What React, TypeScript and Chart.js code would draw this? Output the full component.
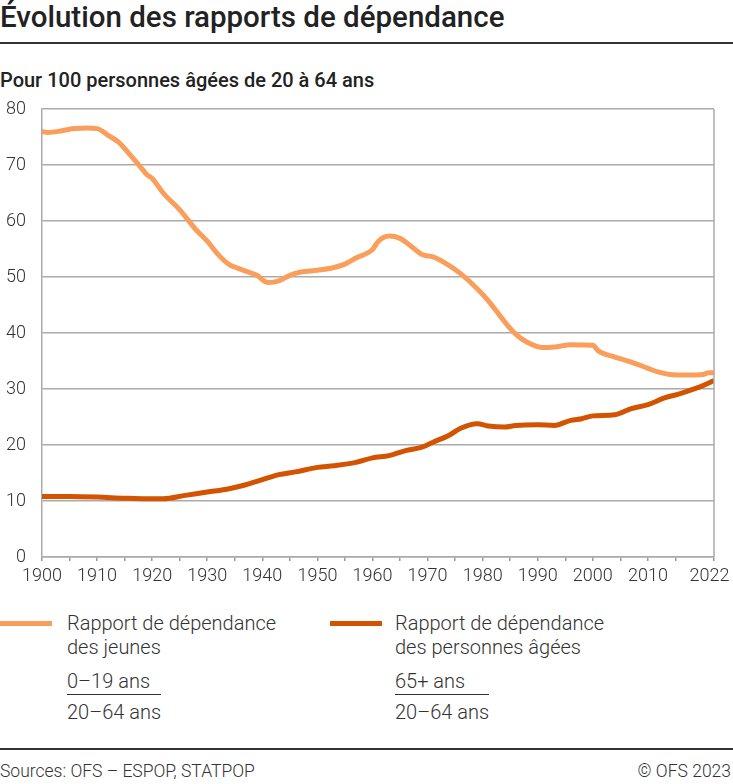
import { useEffect, useRef } from "react";
import { Chart, ChartConfiguration, registerables } from "chart.js";

Chart.register(...registerables);

// Young dependency ratio (0-19 / 20-64)
const youngYears = [
  1900, 1901, 1903, 1905, 1906, 1908, 1910, 1912, 1914, 1916, 1918, 1919,
  1920, 1922, 1925, 1928, 1930, 1932, 1934, 1936, 1939, 1941, 1943, 1945,
  1947, 1950, 1953, 1955, 1957, 1960, 1961, 1963, 1965, 1967, 1969, 1971,
  1973, 1976, 1979, 1981, 1984, 1986, 1988, 1991, 1993, 1996, 2000, 2001,
  2004, 2007, 2010, 2012, 2014, 2017, 2020, 2021, 2022,
];
const youngValues = [
  76.0, 75.8, 76.0, 76.4, 76.5, 76.6, 76.5, 75.3, 74.0, 71.8, 69.5, 68.3,
  67.6, 65.0, 62.0, 58.4, 56.4, 54.0, 52.2, 51.4, 50.3, 49.0, 49.3, 50.3,
  50.9, 51.2, 51.7, 52.3, 53.4, 54.9, 56.3, 57.3, 56.9, 55.5, 54.0, 53.6,
  52.6, 50.6, 47.9, 45.8, 42.0, 39.8, 38.4, 37.4, 37.5, 37.9, 37.8, 36.8,
  35.7, 34.8, 33.7, 33.0, 32.6, 32.5, 32.6, 32.9, 32.9,
];

// Old-age dependency ratio (65+ / 20-64)
const oldYears = [
  1900, 1905, 1910, 1915, 1919, 1922, 1926, 1930, 1934, 1937, 1940, 1943,
  1946, 1950, 1953, 1957, 1960, 1963, 1966, 1969, 1971, 1974, 1976, 1979,
  1981, 1984, 1986, 1990, 1993, 1996, 1998, 2000, 2004, 2007, 2010, 2013,
  2016, 2018, 2020, 2022,
];
const oldValues = [
  10.8, 10.8, 10.7, 10.5, 10.4, 10.4, 11.0, 11.6, 12.2, 12.9, 13.8, 14.7,
  15.2, 16.0, 16.3, 16.9, 17.7, 18.1, 19.0, 19.6, 20.5, 21.8, 23.0, 23.8,
  23.4, 23.2, 23.5, 23.6, 23.5, 24.4, 24.7, 25.2, 25.4, 26.5, 27.2, 28.4,
  29.2, 29.9, 30.6, 31.5,
];

const xTicks = [
  1900, 1905, 1910, 1915, 1920, 1925, 1930, 1935, 1940, 1945, 1950, 1955,
  1960, 1965, 1970, 1975, 1980, 1985, 1990, 1995, 2000, 2005, 2010, 2015, 2022,
];
const xLabels = [
  1900, 1910, 1920, 1930, 1940, 1950, 1960, 1970, 1980, 1990, 2000, 2010, 2022,
];

const youngColor = "#fa9f5b";
const oldColor = "#d35400";
const gridColor = "#aaaaaa";
const textColor = "#333333";
const font = "Roboto, 'Noto Sans', sans-serif";

const rightBorder = {
  id: "rightBorder",
  afterDraw(chart: Chart) {
    const { ctx, chartArea } = chart;
    ctx.save();
    ctx.strokeStyle = gridColor;
    ctx.lineWidth = 1.5;
    ctx.beginPath();
    ctx.moveTo(chartArea.right, chartArea.top);
    ctx.lineTo(chartArea.right, chartArea.bottom);
    ctx.stroke();
    ctx.restore();
  },
};

function DependencyChart() {
  const canvasRef = useRef<HTMLCanvasElement | null>(null);

  useEffect(() => {
    if (!canvasRef.current) return;
    const config: ChartConfiguration = {
      type: "line",
      data: {
        datasets: [
          {
            label: "Rapport de dépendance des personnes âgées",
            data: oldYears.map((y, i) => ({ x: y, y: oldValues[i] })),
            borderColor: oldColor,
            borderWidth: 5,
            pointRadius: 0,
            tension: 0.3,
            cubicInterpolationMode: "monotone",
            borderJoinStyle: "round",
          },
          {
            label: "Rapport de dépendance des jeunes",
            data: youngYears.map((y, i) => ({ x: y, y: youngValues[i] })),
            borderColor: youngColor,
            borderWidth: 5,
            pointRadius: 0,
            tension: 0.3,
            cubicInterpolationMode: "monotone",
            borderJoinStyle: "round",
          },
        ],
      },
      options: {
        animation: false,
        responsive: true,
        maintainAspectRatio: false,
        layout: { padding: { top: 14, right: 19, left: 0, bottom: 0 } },
        plugins: {
          legend: { display: false },
          tooltip: { enabled: false },
        },
        scales: {
          x: {
            type: "linear",
            min: 1900,
            max: 2022,
            afterBuildTicks: (scale: any) => {
              scale.ticks = xTicks.map((v) => ({ value: v }));
            },
            afterFit: (scale: any) => {
              scale.height = 38;
              scale.paddingLeft = 0;
              scale.paddingRight = 0;
            },
            grid: {
              drawOnChartArea: false,
              drawTicks: true,
              tickLength: 4,
              color: "#999999",
              lineWidth: 1.5,
            },
            border: { color: gridColor, width: 1.5 },
            ticks: {
              autoSkip: false,
              maxRotation: 0,
              padding: 5,
              color: textColor,
              font: { family: font, size: 18, weight: 300 },
              callback: (v: any) => {
                if (v === 2022) return "2022\u2002";
                return xLabels.includes(v) ? String(v) : "";
              },
            },
          },
          y: {
            min: 0,
            max: 80,
            afterFit: (scale: any) => {
              scale.width = 42;
              scale.paddingTop = 0;
              scale.paddingBottom = 0;
            },
            grid: { color: gridColor, lineWidth: 1.5, drawTicks: false },
            border: { color: gridColor, width: 1.5 },
            ticks: {
              stepSize: 10,
              padding: 16,
              color: textColor,
              font: { family: font, size: 18, weight: 300 },
            },
          },
        },
      },
      plugins: [rightBorder],
    };
    const chart = new Chart(canvasRef.current, config);
    return () => chart.destroy();
  }, []);

  return (
    <div
      style={{
        position: "absolute",
        left: 0,
        top: 95,
        width: 733,
        height: 500,
      }}
    >
      <canvas ref={canvasRef} />
    </div>
  );
}

function LegendItem(props: {
  left: number;
  color: string;
  lines: string[];
  numerator: string;
}) {
  const { left, color, lines, numerator } = props;
  return (
    <>
      <div
        style={{
          position: "absolute",
          left: left,
          top: 621,
          width: 52,
          height: 5,
          background: color,
        }}
      />
      <div
        style={{
          position: "absolute",
          left: left + 67 - (left === 0 ? 0 : 2),
          top: 611,
          lineHeight: "24px",
          fontSize: 20,
          fontWeight: 300,
          whiteSpace: "nowrap",
        }}
      >
        {lines.map((l) => (
          <div key={l}>{l}</div>
        ))}
        <div style={{ display: "inline-block", marginTop: 10 }}>
          <div
            style={{
              borderBottom: "1.5px solid " + textColor,
              paddingBottom: 1,
            }}
          >
            {numerator}
          </div>
          <div style={{ paddingTop: 5 }}>20–64 ans</div>
        </div>
      </div>
    </>
  );
}

export default function App() {
  return (
    <div
      style={{
        position: "absolute",
        left: 0,
        top: 0,
        width: 733,
        height: 784,
        fontFamily: font,
        color: textColor,
        background: "#fff",
        overflow: "hidden",
      }}
    >
      <div
        style={{
          position: "absolute",
          left: 0,
          top: 0,
          fontSize: 29.5,
          fontWeight: 500,
          color: "#222",
          whiteSpace: "nowrap",
        }}
      >
        Évolution des rapports de dépendance
      </div>
      <div
        style={{
          position: "absolute",
          left: 0,
          top: 42,
          width: 733,
          height: 1.5,
          background: textColor,
        }}
      />
      <div
        style={{
          position: "absolute",
          left: 0,
          top: 68,
          fontSize: 20,
          fontWeight: 500,
          color: "#222",
          whiteSpace: "nowrap",
        }}
      >
        Pour 100 personnes âgées de 20 à 64 ans
      </div>
      <DependencyChart />
      <LegendItem
        left={0}
        color={youngColor}
        lines={["Rapport de dépendance", "des jeunes"]}
        numerator="0–19 ans"
      />
      <LegendItem
        left={330}
        color={oldColor}
        lines={["Rapport de dépendance", "des personnes âgées"]}
        numerator="65+ ans"
      />
      <div
        style={{
          position: "absolute",
          left: 0,
          top: 748,
          width: 733,
          height: 1.5,
          background: textColor,
        }}
      />
      <div
        style={{
          position: "absolute",
          left: 0,
          top: 761,
          fontSize: 17.5,
          fontWeight: 300,
          whiteSpace: "nowrap",
        }}
      >
        Sources: OFS – ESPOP, STATPOP
      </div>
      <div
        style={{
          position: "absolute",
          right: 2,
          top: 761,
          fontSize: 17.5,
          fontWeight: 300,
          whiteSpace: "nowrap",
        }}
      >
        © OFS 2023
      </div>
    </div>
  );
}
